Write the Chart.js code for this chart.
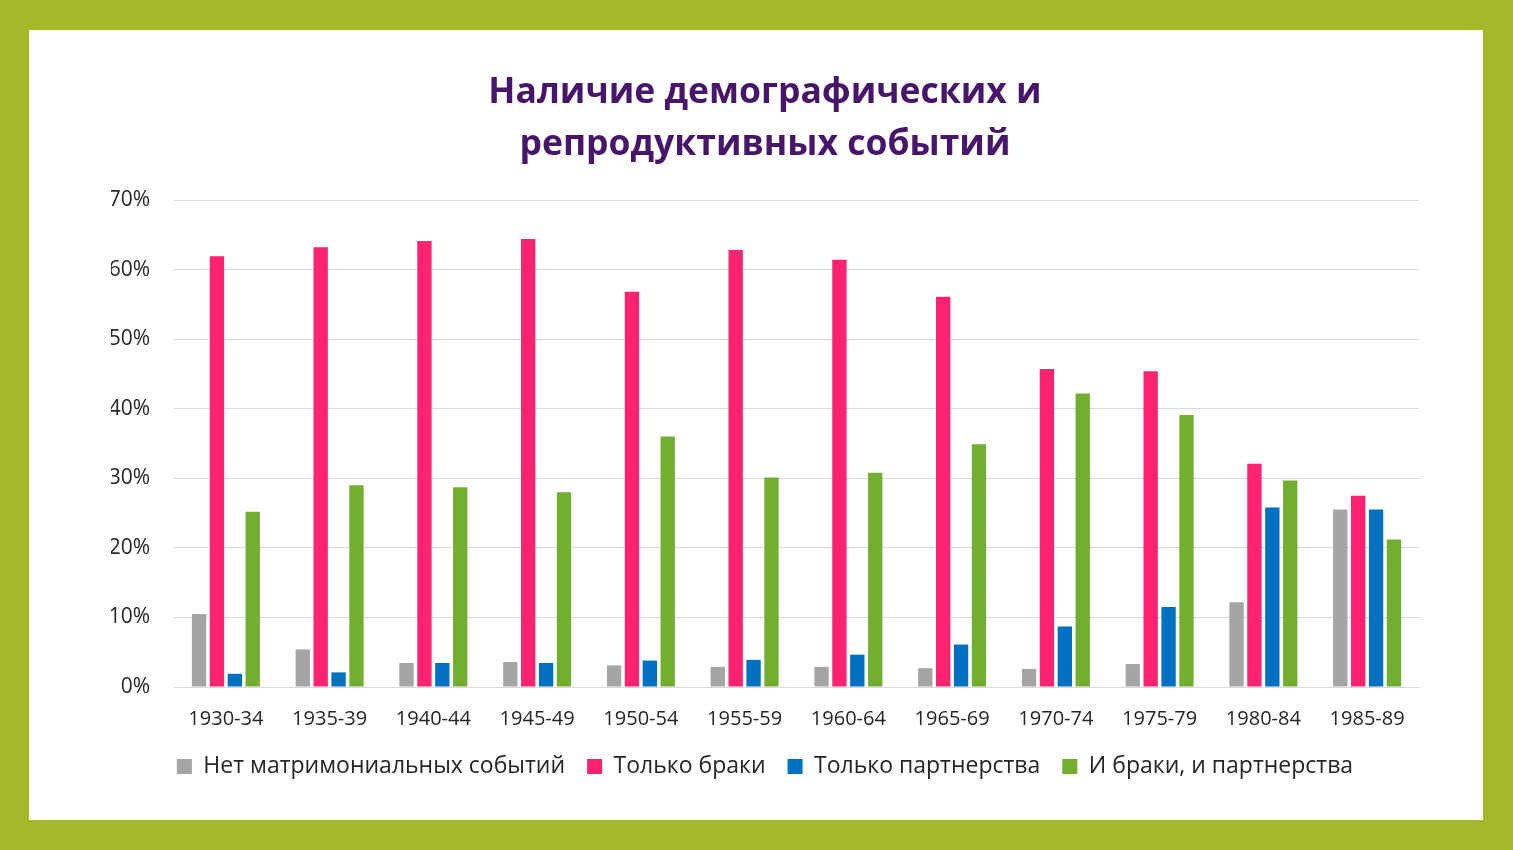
<!DOCTYPE html>
<html>
<head>
<meta charset="utf-8">
<script src="https://cdn.jsdelivr.net/npm/chart.js@4/dist/chart.umd.min.js"></script>
<style>
  html, body { margin: 0; padding: 0; }
  body { width: 1513px; height: 850px; background: #a5b82a; position: relative; overflow: hidden; }
  #panel { position: absolute; left: 29px; top: 30px; width: 1454px; height: 790px; background: #ffffff; }
  #wrap { position: absolute; left: 0; top: 0; width: 1454px; height: 790px; }
</style>
</head>
<body>
<div id="panel"><div id="wrap"><canvas id="c" width="1454" height="790"></canvas></div></div>
<script>
const categories = ['1930-34','1935-39','1940-44','1945-49','1950-54','1955-59','1960-64','1965-69','1970-74','1975-79','1980-84','1985-89'];
const seriesNames = ['Нет матримониальных событий','Только браки','Только партнерства','И браки, и партнерства'];
const noEvents      = [10.5, 5.4, 3.45, 3.6, 3.1, 2.9, 2.9, 2.7, 2.6, 3.3, 12.2, 25.5];
const onlyMarriages = [61.9, 63.2, 64.1, 64.4, 56.8, 62.8, 61.4, 56.1, 45.7, 45.4, 32.1, 27.5];
const onlyPartners  = [1.9, 2.1, 3.45, 3.45, 3.8, 3.9, 4.65, 6.1, 8.7, 11.5, 25.8, 25.5];
const both          = [25.2, 29.0, 28.7, 28.0, 36.0, 30.1, 30.8, 34.9, 42.2, 39.1, 29.7, 21.2];
const yTickValues   = [0, 10, 20, 30, 40, 50, 60, 70];
const titleLines    = ['Наличие демографических и', 'репродуктивных событий'];

const colors = ['#a5a5a5', '#fe2371', '#0070c0', '#72ae30'];
const FONT = "'Open Sans', 'Noto Sans', sans-serif";

const seriesData = [noEvents, onlyMarriages, onlyPartners, both];
const datasets = seriesData.map((d, i) => ({
  label: seriesNames[i],
  data: d,
  backgroundColor: colors[i],
  borderWidth: 0,
  categoryPercentage: 0.69,
  barPercentage: 0.8
}));

new Chart(document.getElementById('c'), {
  type: 'bar',
  data: { labels: categories, datasets },
  options: {
    responsive: false,
    animation: false,
    layout: { padding: { left: 82, right: 64, top: 0, bottom: 32 } },
    plugins: {
      tooltip: { enabled: false },
      title: {
        display: true,
        text: titleLines,
        color: '#47166a',
        font: { family: FONT, size: 35.5, weight: 'bold', lineHeight: 1.465 },
        padding: { top: 37, bottom: 29 }
      },
      legend: {
        position: 'bottom',
        labels: {
          color: '#262626',
          font: { family: FONT, size: 23 },
          boxWidth: 15,
          boxHeight: 15,
          padding: 22
        }
      }
    },
    scales: {
      x: {
        afterFit: (s) => { s.height = 46; },
        grid: { display: false, drawTicks: false },
        border: { display: true, color: '#d9d9d9', width: 1 },
        ticks: { color: '#262626', font: { family: FONT, size: 20 }, padding: 20, maxRotation: 0 }
      },
      y: {
        min: 0,
        max: 70,
        afterFit: (s) => { s.width = 63; },
        afterBuildTicks: (s) => { s.ticks = yTickValues.map(v => ({ value: v })); },
        grid: { color: '#d9d9d9', drawTicks: false, lineWidth: 1 },
        border: { display: false },
        ticks: {
          color: '#262626',
          font: { family: FONT, size: 21 },
          padding: 24,
          callback: (v) => v + '%'
        }
      }
    }
  }
});
</script>
</body>
</html>
